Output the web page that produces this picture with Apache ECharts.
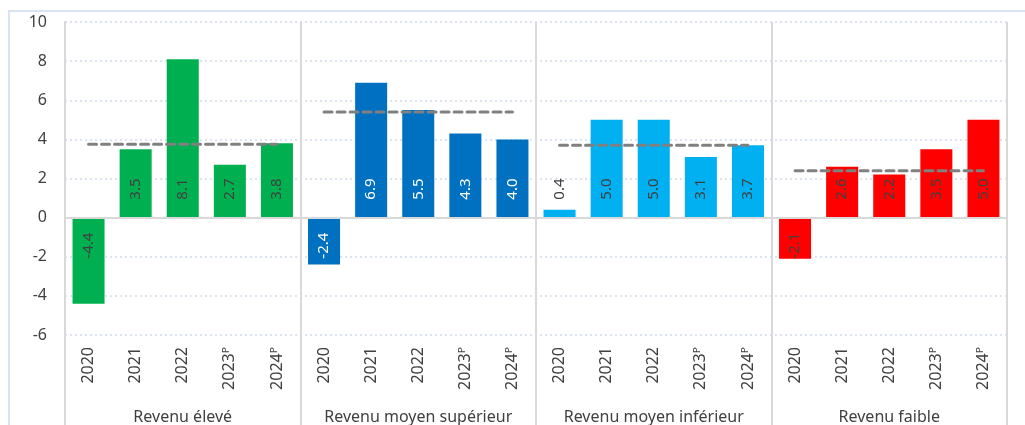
<!DOCTYPE html>
<html>
	<head>
		<meta charset="utf-8">
		<title>Croissance par groupe de revenu</title>
		<script src="https://cdn.jsdelivr.net/npm/echarts@6/dist/echarts.min.js"></script>
		<style>
			html, body { margin: 0; padding: 0; background: #fff; }
		</style>
	</head>
	<body>
		<div id="main" style="width: 1025px;height:425px;"></div>

		<script type="text/javascript">
			// données
			var years = ['2020', '2021', '2022', '2023ᴾ', '2024ᴾ'];
			var groups = ['Revenu élevé', 'Revenu moyen supérieur', 'Revenu moyen inférieur', 'Revenu faible'];
			var highIncome = [-4.4, 3.5, 8.1, 2.7, 3.8];
			var upperMiddleIncome = [-2.4, 6.9, 5.5, 4.3, 4.0];
			var lowerMiddleIncome = [0.4, 5.0, 5.0, 3.1, 3.7];
			var lowIncome = [-2.1, 2.6, 2.2, 3.5, 5.0];
			var averages = [3.75, 5.4, 3.7, 2.4];
			var yTicks = [-6, -4, -2, 0, 2, 4, 6, 8, 10];

			var groupValues = [highIncome, upperMiddleIncome, lowerMiddleIncome, lowIncome];
			var groupColors = ['#00B050', '#0070C0', '#00B0F0', '#FF0000'];
			var labelColors = ['#404040', '#ffffff', '#404040', '#404040'];

			var font = 'Noto Sans';
			var sepColor = '#d9d9d9';

			// catégories : années répétées par groupe
			var categories = [];
			var barData = [];
			groupValues.forEach(function (vals, g) {
				vals.forEach(function (v, i) {
					categories.push(years[i]);
					var neg = v < 0;
					barData.push({
						value: v,
						itemStyle: { color: groupColors[g] },
						label: {
							color: labelColors[g],
							position: neg ? 'insideTop' : 'insideBottom',
							align: neg ? 'right' : 'left',
							distance: neg ? 15 : 18
						}
					});
				});
			});

			// lignes pointillées des moyennes
			var avgSeries = averages.map(function (a, g) {
				var data = categories.map(function () { return null; });
				for (var i = 0; i < years.length; i++) data[g * years.length + i] = a;
				return {
					type: 'line',
					data: data,
					symbol: 'none',
					silent: true,
					z: 5,
					lineStyle: { color: '#808080', width: 3, type: [8, 5], cap: 'round' }
				};
			});

			var myChart = echarts.init(document.getElementById('main'));
			var option = {
				animation: false,
				textStyle: { fontFamily: font },
				graphic: [{
					type: 'rect',
					shape: { x: 9, y: 11, width: 1100, height: 500 },
					style: { fill: 'none', stroke: '#dae3f3', lineWidth: 2 },
					silent: true
				}],
				grid: { left: 65, right: 18, top: 22, bottom: 89 },
				xAxis: [{
					type: 'category',
					data: categories,
					position: 'bottom',
					axisLine: { show: false, onZero: false },
					axisTick: { show: false },
					splitLine: { show: false },
					axisLabel: {
						interval: 0,
						rotate: 90,
						margin: 12,
						fontSize: 16,
						color: '#404040',
						fontFamily: font
					}
				}, {
					type: 'category',
					data: groups,
					position: 'bottom',
					axisLine: { show: false, onZero: false },
					axisTick: { show: true, interval: 0, length: 95, lineStyle: { color: sepColor, width: 2 } },
					splitLine: { show: true, interval: 0, lineStyle: { color: sepColor, width: 2 } },
					axisLabel: {
						interval: 0,
						margin: 74,
						fontSize: 16,
						color: '#404040',
						fontFamily: font
					}
				}],
				yAxis: {
					type: 'value',
					min: yTicks[0],
					max: yTicks[yTicks.length - 1],
					interval: 2,
					axisLine: { show: true, lineStyle: { color: sepColor, width: 2 } },
					axisTick: { show: false },
					axisLabel: { margin: 18, fontSize: 16, color: '#404040', fontFamily: font },
					splitLine: { lineStyle: { color: '#dce4f0', width: 2, type: [2, 3] } }
				},
				series: [{
					type: 'bar',
					data: barData,
					barCategoryGap: '32%',
					z: 3,
					label: {
						show: true,
						rotate: 90,
						verticalAlign: 'middle',
						fontSize: 15,
						fontFamily: font,
						formatter: function (p) { return p.value.toFixed(1); }
					},
					markLine: {
						silent: true,
						symbol: 'none',
						label: { show: false },
						lineStyle: { color: sepColor, width: 2, type: 'solid' },
						data: [{ yAxis: 0 }]
					}
				}].concat(avgSeries)
			};

			myChart.setOption(option);
		</script>
	</body>
</html>
